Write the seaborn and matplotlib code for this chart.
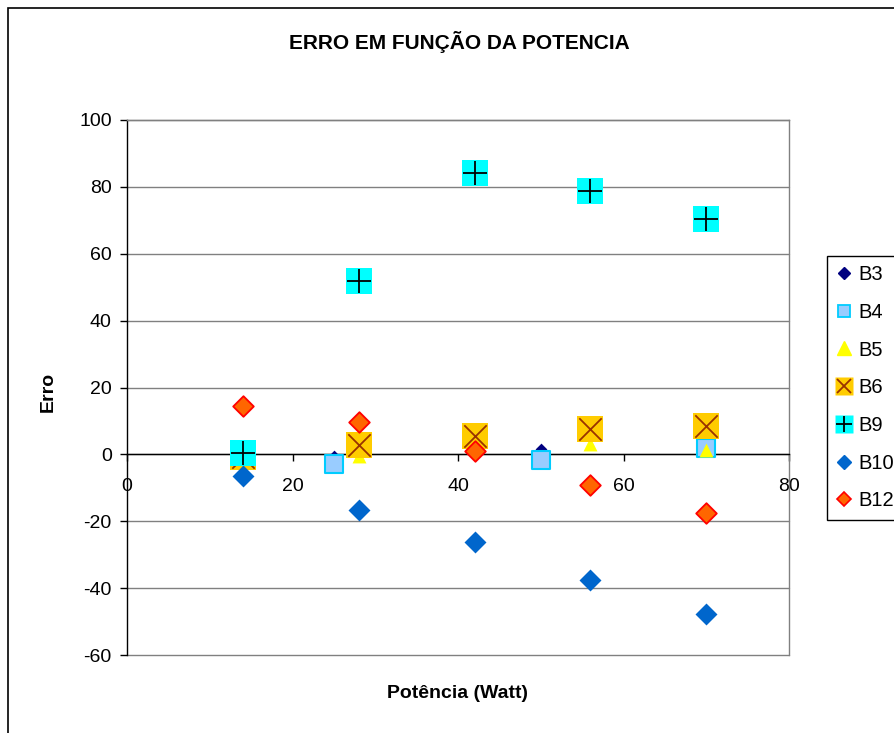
import matplotlib
matplotlib.use("Agg")
import matplotlib.pyplot as plt
from matplotlib.lines import Line2D
from matplotlib.patches import Rectangle
import seaborn as sns

# Valores
x_b3 = [25, 50]
y_b3 = [-0.6, 1.5]
x_b4 = [25, 50, 70]
y_b4 = [-2.8, -1.6, 1.8]
x_b5 = [14, 28, 42, 56, 70]
y_b5 = [-1.5, -0.5, 2.0, 3.0, 1.3]
x_b6 = [14, 28, 42, 56, 70]
y_b6 = [-0.8, 2.7, 5.5, 7.7, 8.5]
x_b9 = [14, 28, 42, 56, 70]
y_b9 = [0.3, 51.9, 84.1, 78.8, 70.4]
x_b10 = [14, 28, 42, 56, 70]
y_b10 = [-6.5, -16.6, -26.3, -37.6, -47.8]
x_b12 = [14, 28, 42, 56, 70]
y_b12 = [14.5, 9.7, 1.0, -9.2, -17.6]

x_ticks = [0, 20, 40, 60, 80]
y_ticks = [-60, -40, -20, 0, 20, 40, 60, 80, 100]

sns.set_style("white")
plt.rcParams["font.family"] = ["Liberation Sans", "DejaVu Sans"]
plt.rcParams["axes.unicode_minus"] = False
plt.rcParams["text.color"] = "black"
plt.rcParams["xtick.color"] = "black"
plt.rcParams["ytick.color"] = "black"

fig = plt.figure(figsize=(8.94, 7.33), dpi=100)
ax = fig.add_axes([127 / 894, 1 - 655 / 733, 662 / 894, 535 / 733])

# Grade horizontal cinza (estilo Excel)
for yv in y_ticks:
    ax.axhline(yv, color="#808080", lw=1.0, zorder=0, clip_on=False)

# Séries, na ordem do Excel
sns.scatterplot(x=x_b3, y=y_b3, marker="D", s=36, color="#000080", edgecolor="#000080", linewidth=0, ax=ax, zorder=3)
sns.scatterplot(x=x_b4, y=y_b4, marker="s", s=170, color="#99CCFF", edgecolor="#00CCFF", linewidth=1.5, ax=ax, zorder=3)
sns.scatterplot(x=x_b5, y=y_b5, marker="^", s=100, color="#FFFF00", edgecolor="#FFFF00", linewidth=0, ax=ax, zorder=3)
sns.scatterplot(x=x_b6, y=y_b6, marker="s", s=350, color="#FFCC00", edgecolor="none", linewidth=0, ax=ax, zorder=3)
sns.scatterplot(x=x_b6, y=y_b6, marker="x", s=260, color="#993300", linewidth=1.3, ax=ax, zorder=3)
sns.scatterplot(x=x_b9, y=y_b9, marker="s", s=350, color="#00FFFF", edgecolor="none", linewidth=0, ax=ax, zorder=3)
sns.scatterplot(x=x_b9, y=y_b9, marker="+", s=300, color="#000000", linewidth=1.3, ax=ax, zorder=3)
sns.scatterplot(x=x_b10, y=y_b10, marker="D", s=125, color="#0066CC", edgecolor="#0066CC", linewidth=0, ax=ax, zorder=3)
sns.scatterplot(x=x_b12, y=y_b12, marker="D", s=110, color="#FF6600", edgecolor="#FF0000", linewidth=1.3, ax=ax, zorder=3)

ax.set_xlim(0, 80)
ax.set_ylim(-60, 100)
ax.set_xticks(x_ticks)
ax.set_yticks(y_ticks)

# Eixo x cruza em y = 0
ax.spines["bottom"].set_position(("data", 0))
ax.spines["bottom"].set_color("#000000")
ax.spines["left"].set_color("#000000")
ax.spines["top"].set_color("#808080")
ax.spines["right"].set_color("#808080")
for sp in ax.spines.values():
    sp.set_linewidth(1.0)
    sp.set_visible(True)
ax.tick_params(axis="x", direction="out", length=5, width=1, pad=12, labelsize=14, bottom=True)
ax.tick_params(axis="y", direction="out", length=5, width=1, pad=6, labelsize=14, left=True)

ax.set_xlabel("")
ax.set_ylabel("")
fig.text(458 / 894, 1 - 693 / 733, "Potência (Watt)", ha="center", va="center", fontsize=14, fontweight="bold")
fig.text(48 / 894, 1 - 392 / 733, "Erro", ha="center", va="center", rotation=90, fontsize=14, fontweight="bold")
fig.text(459 / 894, 1 - 42 / 733, "ERRO EM FUNÇÃO DA POTENCIA", ha="center", va="center", fontsize=15, fontweight="bold")

# Legenda
handles = [
    Line2D([], [], ls="", marker="D", ms=6, color="#000080"),
    Line2D([], [], ls="", marker="s", ms=8, mfc="#99CCFF", mec="#00CCFF", mew=1.3),
    Line2D([], [], ls="", marker="^", ms=10, color="#FFFF00"),
    (Line2D([], [], ls="", marker="s", ms=13, mfc="#FFCC00", mec="none"),
     Line2D([], [], ls="", marker="x", ms=10, color="#993300", mew=1.3)),
    (Line2D([], [], ls="", marker="s", ms=13, mfc="#00FFFF", mec="none"),
     Line2D([], [], ls="", marker="+", ms=12, color="#000000", mew=1.3)),
    Line2D([], [], ls="", marker="D", ms=7, color="#0066CC"),
    Line2D([], [], ls="", marker="D", ms=7, mfc="#FF6600", mec="#FF0000", mew=1.2),
]
labels = ["B3", "B4", "B5", "B6", "B9", "B10", "B12"]
leg = fig.legend(handles, labels, loc="upper left", bbox_to_anchor=(827 / 894, 1 - 256 / 733),
                 fontsize=14.5, frameon=True, fancybox=False, edgecolor="#000000", framealpha=1,
                 handlelength=0.8, handletextpad=0.33, labelspacing=0.93, borderpad=0.45,
                 borderaxespad=0)
leg.get_frame().set_linewidth(1.0)

# Moldura externa da área do gráfico
fig.patches.append(Rectangle((8 / 894, -0.1), 2.0, 1.1 - 8 / 733, transform=fig.transFigure,
                             fill=False, edgecolor="#000000", lw=1.2))

plt.savefig("out.png", dpi=100)
